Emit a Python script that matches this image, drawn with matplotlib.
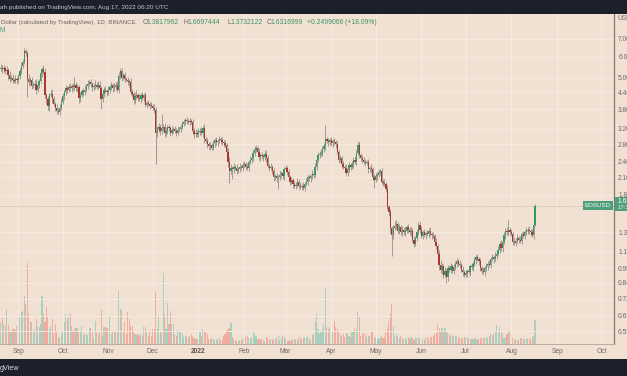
import numpy as np
import pandas as pd
import matplotlib
matplotlib.use("Agg")
import matplotlib.pyplot as plt
import matplotlib.dates as mdates
from matplotlib.patches import Rectangle


# -----------------------------
# Data (EOS / USD daily)
# -----------------------------

START_DATE = "2021-08-20"
FIRST_OPEN = 5.40

closes_aug21 = [5.45, 5.38, 5.42, 5.30, 5.35, 5.10, 4.95, 5.00, 4.90, 4.85, 4.95, 4.88]
closes_sep21 = [5.05, 5.30, 5.55, 5.75, 6.30, 6.20, 4.95, 4.80, 4.90, 4.65, 4.70, 4.75, 4.50, 4.70, 4.85,
                5.20, 5.40, 5.25, 4.30, 4.15, 3.90, 4.30, 4.35, 4.15, 3.98, 3.85, 3.75, 3.72, 3.85, 4.05]
closes_oct21 = [4.25, 4.40, 4.55, 4.50, 4.60, 4.55, 4.65, 4.60, 4.70, 4.55, 4.60, 4.18, 4.30, 4.45, 4.40, 4.50,
                4.65, 4.75, 4.80, 4.72, 4.60, 4.65, 4.70, 4.62, 4.70, 4.55, 4.14, 4.35, 4.50, 4.45, 4.40]
closes_nov21 = [4.50, 4.60, 4.68, 4.55, 4.62, 4.70, 4.50, 5.05, 5.30, 5.00, 5.10, 4.95, 4.90, 4.85, 4.80,
                4.40, 4.35, 4.10, 4.25, 4.30, 4.20, 4.15, 4.30, 4.20, 4.28, 3.95, 4.00, 3.98, 3.92, 3.90]
closes_dec21 = [3.85, 3.78, 3.10, 3.20, 3.25, 3.15, 3.22, 3.25, 3.10, 3.15, 3.25, 3.22, 3.10, 3.18, 3.20, 3.15,
                3.10, 3.18, 3.20, 3.25, 3.35, 3.40, 3.45, 3.42, 3.40, 3.42, 3.40, 3.15, 3.07, 3.10, 3.05]
closes_jan22 = [3.12, 3.15, 3.10, 3.23, 2.92, 2.88, 2.80, 2.75, 2.78, 2.72, 2.82, 2.90, 2.85, 2.88, 2.92, 2.90,
                2.85, 2.82, 2.78, 2.62, 2.40, 2.22, 2.28, 2.25, 2.30, 2.28, 2.22, 2.26, 2.30, 2.28, 2.33]
closes_feb22 = [2.35, 2.30, 2.28, 2.40, 2.45, 2.48, 2.60, 2.66, 2.70, 2.62, 2.50, 2.55, 2.52, 2.50,
                2.58, 2.48, 2.32, 2.28, 2.30, 2.22, 2.10, 2.12, 2.08, 2.10, 2.15, 2.18, 2.12, 2.25]
closes_mar22 = [2.27, 2.20, 2.10, 2.02, 2.05, 1.98, 1.95, 1.97, 2.02, 1.95, 1.93, 1.95, 1.92, 1.98, 2.02, 2.10,
                2.08, 2.12, 2.17, 2.15, 2.30, 2.45, 2.55, 2.58, 2.60, 2.68, 2.75, 2.92, 2.88, 2.85, 2.90]
closes_apr22 = [2.82, 2.88, 2.85, 2.80, 2.62, 2.45, 2.48, 2.35, 2.30, 2.28, 2.18, 2.25, 2.33, 2.30, 2.35,
                2.45, 2.40, 2.60, 2.78, 2.55, 2.48, 2.45, 2.40, 2.38, 2.40, 2.25, 2.28, 2.25, 2.10, 2.05]
closes_may22 = [2.12, 2.15, 2.20, 2.22, 2.02, 2.00, 1.98, 1.90, 1.62, 1.55, 1.35, 1.27, 1.35, 1.38, 1.40, 1.32,
                1.36, 1.30, 1.33, 1.30, 1.32, 1.36, 1.33, 1.30, 1.32, 1.22, 1.18, 1.24, 1.30, 1.39, 1.33]
closes_jun22 = [1.26, 1.30, 1.27, 1.29, 1.28, 1.32, 1.28, 1.27, 1.26, 1.20, 1.15, 1.08, 0.98, 0.94, 0.97,
                0.90, 0.93, 0.88, 0.95, 0.94, 0.97, 0.93, 0.96, 0.99, 1.01, 0.99, 0.98, 0.94, 0.92, 0.90]
closes_jul22 = [0.91, 0.93, 0.92, 0.97, 0.96, 0.99, 1.02, 1.05, 1.03, 1.01, 0.95, 0.93, 0.92, 0.95, 0.97, 0.99,
                0.98, 1.03, 1.05, 1.03, 1.06, 1.08, 1.12, 1.18, 1.13, 1.20, 1.27, 1.32, 1.30, 1.33, 1.30]
closes_aug22 = [1.28, 1.20, 1.19, 1.21, 1.24, 1.22, 1.21, 1.28, 1.26, 1.30, 1.32, 1.33, 1.31, 1.30, 1.27,
                1.3818, 1.6317]

# wick length beyond the body, in percent
wick_up = [3, 2, 3, 2, 3, 2, 4, 2, 3, 2, 3, 2,
           2, 3, 3, 2, 3, 2, 2, 4, 3, 3, 2, 3, 4, 3, 2, 3, 2, 3, 4, 2, 3, 2, 3, 4, 3, 2, 3, 2, 3, 3,
           3, 2, 3, 2, 3, 4, 2, 3, 7, 2, 3, 2, 3, 2, 3, 4, 2, 3, 2, 3, 2, 3, 4, 2, 3, 3, 2, 3, 2, 3, 2,
           3, 2, 3, 2, 3, 2, 3, 4, 3, 3, 2, 3, 2, 3, 2, 4, 3, 2, 3, 4, 2, 3, 2, 3, 2, 3, 2, 3, 2, 3,
           2, 3, 2, 3, 4, 3, 13, 3, 4, 3, 2, 3, 2, 3, 2, 3, 2, 3, 2, 3, 2, 3, 2, 3, 2, 3, 2, 3, 2, 3, 2,
           3, 2, 3, 2, 3, 2, 3, 2, 3, 2, 3, 2, 3, 2, 3, 2, 3, 2, 3, 2, 3, 4, 3, 2, 3, 2, 3, 2, 3, 2, 3,
           3, 2, 3, 2, 3, 2, 3, 4, 3, 2, 3, 2, 3, 2, 3, 2, 3, 2, 3, 2, 3, 2, 3, 2, 3, 2, 3, 2,
           3, 2, 3, 2, 3, 2, 3, 2, 3, 2, 3, 2, 3, 2, 3, 2, 3, 2, 3, 2, 3, 4, 3, 2, 3, 3, 3, 13, 2, 3, 2,
           3, 2, 3, 2, 3, 2, 3, 2, 3, 2, 3, 2, 3, 2, 3, 2, 3, 2, 4, 3, 2, 3, 2, 3, 2, 3, 2, 3, 2, 3,
           3, 2, 3, 2, 3, 2, 3, 2, 3, 2, 3, 2, 3, 4, 3, 2, 3, 2, 3, 2, 3, 2, 3, 2, 3, 2, 3, 2, 3, 2, 3,
           3, 2, 3, 2, 3, 2, 3, 2, 3, 2, 3, 2, 3, 4, 3, 2, 3, 2, 3, 2, 3, 2, 3, 2, 3, 2, 3, 2, 3, 2,
           3, 2, 3, 2, 3, 2, 3, 2, 3, 2, 3, 2, 3, 2, 3, 2, 3, 2, 3, 2, 3, 2, 3, 2, 3, 2, 3, 2, 3, 9, 2,
           3, 2, 3, 2, 3, 2, 3, 2, 3, 2, 3, 2, 3, 2, 3, 2, 2.3]
wick_dn = [2, 3, 2, 3, 2, 4, 3, 2, 3, 2, 2, 3,
           2, 2, 3, 2, 2, 3, 15, 3, 2, 3, 2, 2, 4, 2, 3, 2, 3, 2, 3, 4, 3, 4, 2, 3, 2, 3, 3, 2, 3, 2,
           2, 3, 2, 3, 2, 2, 3, 2, 3, 2, 3, 4, 3, 2, 3, 2, 2, 3, 2, 2, 3, 2, 3, 2, 2, 3, 8, 2, 3, 2, 3,
           2, 3, 2, 3, 2, 3, 2, 3, 2, 3, 2, 3, 2, 3, 4, 2, 3, 2, 3, 2, 3, 2, 3, 2, 4, 2, 3, 2, 3, 2,
           2, 3, 24, 4, 3, 4, 3, 2, 3, 4, 3, 2, 3, 2, 3, 2, 3, 2, 2, 3, 2, 2, 3, 2, 2, 3, 2, 3, 4, 3, 2,
           2, 3, 2, 4, 3, 2, 3, 2, 3, 2, 2, 3, 2, 3, 2, 3, 2, 3, 2, 3, 4, 10, 3, 8, 3, 2, 3, 2, 3, 2, 3,
           2, 3, 2, 3, 2, 3, 2, 3, 2, 3, 2, 3, 2, 3, 2, 3, 2, 3, 2, 3, 3, 2, 3, 9, 2, 3, 2, 3,
           2, 3, 2, 3, 2, 3, 2, 3, 2, 3, 2, 3, 2, 3, 2, 3, 2, 3, 2, 3, 2, 3, 2, 3, 2, 3, 2, 3, 2, 3, 2,
           2, 3, 2, 3, 2, 3, 2, 3, 2, 3, 2, 3, 2, 3, 2, 3, 2, 3, 2, 3, 2, 3, 2, 3, 2, 3, 2, 3, 2, 7,
           2, 3, 2, 3, 2, 3, 2, 3, 2, 3, 4, 17, 3, 2, 3, 2, 3, 2, 3, 2, 3, 2, 3, 2, 3, 2, 3, 2, 3, 2, 3,
           2, 3, 2, 3, 2, 3, 2, 3, 2, 3, 2, 3, 4, 3, 4, 3, 2, 5, 3, 2, 3, 2, 3, 2, 3, 2, 3, 2, 3, 2,
           2, 3, 2, 3, 2, 3, 2, 3, 2, 3, 2, 3, 2, 3, 2, 3, 2, 3, 2, 3, 2, 3, 2, 3, 2, 3, 2, 3, 2, 3, 2,
           2, 3, 2, 3, 2, 3, 2, 3, 2, 3, 2, 3, 2, 3, 2, 3, 0.6]

# volume, millions of EOS
volume_m = [22, 26, 20, 18, 35, 19, 12, 13, 15, 15, 14, 18,
            18, 28, 32, 33, 48, 40, 81, 30, 22, 22, 13, 15, 25, 18, 17, 20, 48, 30, 22, 37, 27, 15, 18,
            25, 10, 20, 13, 7, 6, 10,
            13, 22, 30, 25, 29, 30, 18, 13, 15, 16, 16, 12, 12, 18, 10, 10, 10, 9, 16, 16, 12, 6, 23, 12,
            10, 13, 34, 8, 17, 17, 16,
            22, 27, 10, 13, 12, 12, 12, 53, 35, 34, 13, 22, 10, 32, 25, 18, 18, 13, 10, 9, 10, 8, 10, 8,
            17, 17, 12, 8, 13, 8,
            15, 15, 52, 15, 28, 13, 11, 71, 30, 15, 41, 20, 33, 20, 20, 10, 8, 14, 12, 12, 10, 7, 8, 8,
            6, 8, 10, 8, 6, 5, 5,
            6, 12, 8, 15, 12, 12, 10, 5, 5, 6, 5, 4, 4, 5, 6, 4, 4, 8, 10, 13, 15, 16, 21, 7, 5, 4, 3, 3,
            4, 4, 5,
            6, 7, 8, 6, 6, 6, 12, 10, 8, 5, 5, 5, 5, 4, 3, 7, 6, 4, 5, 5, 4, 5, 6, 8, 4, 6, 8, 7,
            5, 3, 4, 3, 5, 4, 5, 5, 4, 6, 6, 5, 6, 7, 6, 8, 6, 4, 9, 10, 22, 30, 15, 10, 13, 15, 20, 55,
            17, 15, 17,
            12, 13, 23, 17, 15, 12, 10, 8, 10, 7, 11, 10, 8, 7, 12, 13, 16, 14, 32, 28, 8, 10, 11, 10, 7,
            8, 8, 12, 13, 6,
            7, 5, 6, 6, 8, 6, 7, 13, 15, 23, 30, 40, 18, 8, 10, 8, 6, 8, 6, 5, 5, 6, 7, 5, 7, 6, 4, 6, 6,
            6, 6,
            6, 5, 4, 6, 7, 5, 7, 7, 8, 10, 11, 20, 16, 13, 16, 13, 16, 12, 11, 10, 8, 9, 7, 8, 8, 7, 6, 6,
            6, 7,
            6, 7, 6, 5, 5, 5, 6, 5, 4, 5, 6, 6, 6, 6, 7, 6, 8, 10, 9, 10, 12, 19, 11, 17, 12, 10, 6, 7,
            10, 13, 13,
            10, 6, 4, 5, 4, 4, 6, 6, 5, 5, 6, 5, 5, 5, 7, 8, 24]

closes = (closes_aug21 + closes_sep21 + closes_oct21 + closes_nov21 + closes_dec21 +
          closes_jan22 + closes_feb22 + closes_mar22 + closes_apr22 + closes_may22 +
          closes_jun22 + closes_jul22 + closes_aug22)

price_ticks = [7.0, 6.0, 5.0, 4.4, 3.8, 3.2, 2.8, 2.4, 2.1, 1.8, 1.3, 1.1,
               0.95, 0.84, 0.73, 0.63, 0.55]
month_starts = ["2021-09-01", "2021-10-01", "2021-11-01", "2021-12-01", "2022-01-01",
                "2022-02-01", "2022-03-01", "2022-04-01", "2022-05-01", "2022-06-01",
                "2022-07-01", "2022-08-01", "2022-09-01", "2022-10-01"]
month_labels = ["Sep", "Oct", "Nov", "Dec", "2022", "Feb", "Mar", "Apr", "May", "Jun",
                "Jul", "Aug", "Sep", "Oct"]

LAST_PRICE = 1.6317

# -----------------------------
# Style
# -----------------------------

BG = "#f1e1d3"
DARK = "#1c202b"
UP = "#389767"
DOWN = "#a8372f"
WICK = "#a09a94"
VOL_UP = "#a9cfbf"
VOL_DOWN = "#f1ab9f"
TEXT = "#6c6864"
GREEN_TXT = "#3f9467"

plt.rcParams["font.family"] = ["Liberation Sans", "DejaVu Sans"]

W, H = 627, 376


def fx(px):
    return px / W


def fy(py):
    return 1 - py / H


opens = [FIRST_OPEN] + closes[:-1]
o = np.array(opens)
c = np.array(closes)
hi = np.maximum(o, c) * (1 + np.array(wick_up) / 100)
lo = np.minimum(o, c) * (1 - np.array(wick_dn) / 100)
rising = c >= o

dates = mdates.date2num(pd.date_range(START_DATE, periods=len(closes), freq="D"))

fig = plt.figure(figsize=(W / 100, H / 100), dpi=100, facecolor=BG)

# chart area: x 0..614 px, y 14..344 px
ax_vol = fig.add_axes([0, fy(344), fx(614), (344 - 14) / H])
ax = fig.add_axes([0, fy(344), fx(614), (344 - 14) / H], sharex=ax_vol)
ax_vol.set_facecolor(BG)
ax.patch.set_visible(False)

# volume
ax_vol.bar(dates, volume_m, width=0.75,
           color=[VOL_UP if r else VOL_DOWN for r in rising], linewidth=0)
ax_vol.set_ylim(0, 330)
ax_vol.axis("off")

# candles
ax.set_yscale("log")
ax.vlines(dates, lo, hi, color=WICK, linewidth=0.7, zorder=2)
body_lo = np.minimum(o, c)
body_h = np.maximum(np.abs(c - o), body_lo * 0.006)
ax.bar(dates, body_h, bottom=body_lo, width=0.85,
       color=[UP if r else DOWN for r in rising], linewidth=0, zorder=3)

left = dates[0] - 0.47
ax.set_xlim(left, left + 614 / 1.476)
ax.set_ylim(0.492, 8.70)

# grid
for d in month_starts:
    ax.axvline(mdates.date2num(pd.Timestamp(d)), color="#f6ece3", linewidth=0.6, zorder=0)
for p in price_ticks:
    ax.axhline(p, color="#f6ece3", linewidth=0.6, zorder=0)

# last price line
ax.axhline(LAST_PRICE, color="#9a948e", linewidth=0.5, linestyle=(0, (1, 2)), zorder=1)

# axes look
for side in ["top", "left"]:
    ax.spines[side].set_visible(False)
ax.spines["right"].set_color("#847a72")
ax.spines["right"].set_linewidth(0.9)
ax.spines["bottom"].set_color("#b8aca1")
ax.spines["bottom"].set_linewidth(0.7)

ax.yaxis.tick_right()
ax.set_yticks(price_ticks)
ax.set_yticklabels([f"{p:.4f}" for p in price_ticks])
ax.yaxis.set_minor_locator(matplotlib.ticker.NullLocator())
ax.tick_params(axis="y", length=0, pad=3, labelsize=4.8, labelcolor=TEXT)

ax.set_xticks([mdates.date2num(pd.Timestamp(d)) for d in month_starts])
ax.set_xticklabels(month_labels)
ax.tick_params(axis="x", length=0, pad=3.0, labelsize=4.8, labelcolor=TEXT)
for lbl in ax.get_xticklabels():
    if lbl.get_text() == "2022":
        lbl.set_fontweight("bold")
        lbl.set_color("#55514d")

# -----------------------------
# Frame, header and labels
# -----------------------------

fig.patches.append(Rectangle((0, fy(14)), 1, 14 / H, transform=fig.transFigure,
                             facecolor=DARK, edgecolor="none", zorder=5))
fig.patches.append(Rectangle((0, 0), 1, (H - 359) / H, transform=fig.transFigure,
                             facecolor=DARK, edgecolor="none", zorder=5))

fig.text(fx(0), fy(7), "ah published on TradingView.com, Aug 17, 2022 06:20 UTC",
         color="#c3c6cf", fontsize=4.6, va="center", ha="left", zorder=6)
fig.text(fx(0), fy(368.5), "gView", color="#d8dae0", fontsize=5.2, va="center",
         ha="left", zorder=6)

fig.text(fx(1), fy(22.5), "Dollar (calculated by TradingView), 1D, BINANCE",
         color="#6a655f", fontsize=4.45, va="center", ha="left")
ohlc_pos = [(143, "O", "1.3817962"), (184, "H", "1.6697444"),
            (227, "L", "1.3732122"), (267, "C", "1.6316999")]
for px, letter, val in ohlc_pos:
    fig.text(fx(px), fy(22.5), letter, color="#6a655f", fontsize=4.8, va="center", ha="left")
    fig.text(fx(px + 3.9), fy(22.5), val, color=GREEN_TXT, fontsize=4.9, va="center", ha="left")
fig.text(fx(307), fy(22.5), "+0.2499066 (+18.09%)", color=GREEN_TXT, fontsize=4.9,
         va="center", ha="left")
fig.text(fx(0), fy(31), "M", color="#3fa884", fontsize=4.8, va="center", ha="left")

fig.text(fx(618), fy(19), "USD", color=TEXT, fontsize=4.8, va="center", ha="left")

# last price tags
fig.patches.append(Rectangle((fx(614.5), fy(211)), fx(13), 14 / H, transform=fig.transFigure,
                             facecolor="#4c9f78", edgecolor="none", zorder=5))
fig.text(fx(617.5), fy(201.5), "1.6317", color="white", fontsize=4.8, va="center",
         ha="left", zorder=6)
fig.text(fx(617.5), fy(207.5), "17:39:42", color="#e5f2ec", fontsize=4.4, va="center",
         ha="left", zorder=6)
fig.patches.append(Rectangle((fx(583), fy(210)), fx(29.5), 8.5 / H, transform=fig.transFigure,
                             facecolor="#4c9f78", edgecolor="none", zorder=5))
fig.text(fx(597.8), fy(205.8), "EOSUSD", color="white", fontsize=4.4, va="center",
         ha="center", zorder=6)

fig.savefig("out.png", dpi=100, facecolor=BG)
